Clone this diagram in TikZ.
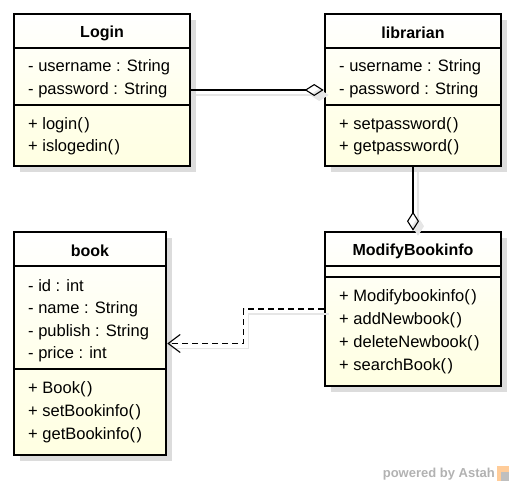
\documentclass[tikz,border=0pt]{standalone}
\usepackage{fontspec}
\setmainfont{Liberation Sans}
\usetikzlibrary{arrows.meta}
\definecolor{boxfill}{HTML}{FFFFE2}
\definecolor{shadowc}{HTML}{DCDCDC}
\definecolor{lineshadow}{HTML}{E6E6E6}
\newcommand{\pp}{(\kern1.5pt)}
\tikzset{
  classbox/.style={draw=black, line width=2.6pt, top color=white, bottom color=boxfill, middle color=boxfill!60, inner sep=0pt},
  sep/.style={line width=1.2pt},
  txt/.style={anchor=west, inner sep=0pt, font=\fontsize{16.5}{19}\selectfont},
  ttl/.style={inner sep=0pt, font=\fontsize{16}{18}\selectfont\bfseries},
  conn/.style={line width=1.1pt},
  shline/.style={line width=1.2pt, draw=lineshadow},
  dia/.style={-{Diamond[open, length=19pt, width=12pt, line width=1.1pt]}},
}
\begin{document}
\begin{tikzpicture}[x=1pt,y=-1pt]
\useasboundingbox (0,0) rectangle (513,487);
% shadows
\fill[shadowc] (20,20) rectangle (196,172);
\fill[shadowc] (331,20) rectangle (507,172);
\fill[shadowc] (20,238) rectangle (172,461);
\fill[shadowc] (331,238) rectangle (507,392);
% boxes
\node[classbox, minimum width=176pt, minimum height=152pt] (login) at (102,90) {};
\node[classbox, minimum width=176pt, minimum height=152pt] (lib) at (413,90) {};
\node[classbox, minimum width=152pt, minimum height=223pt] (book) at (90,343.5) {};
\node[classbox, minimum width=176pt, minimum height=154pt] (mod) at (413,309) {};
% separators
\draw[sep] (14,48) -- (190,48);
\draw[sep] (14,105) -- (190,105);
\draw[sep] (325,48) -- (501,48);
\draw[sep] (325,105) -- (501,105);
\draw[sep] (14,266) -- (166,266);
\draw[sep] (14,369) -- (166,369);
\draw[sep] (325,266) -- (501,266);
\draw[sep] (325,277) -- (501,277);
% Login text
\node[ttl] (tlogin) at (102,33) {Login};
\node[txt] (l1) at (28,67) {- username : String};
\node[txt] (l2) at (28,90) {- password : String};
\node[txt] (l3) at (28,125) {+ login\pp};
\node[txt] (l4) at (28,147) {+ islogedin\pp};
% librarian text
\node[ttl] (tlib) at (413,33) {librarian};
\node[txt] (b1) at (339,67) {- username : String};
\node[txt] (b2) at (339,90) {- password : String};
\node[txt] (b3) at (339,125) {+ setpassword\pp};
\node[txt] (b4) at (339,147) {+ getpassword\pp};
% book text
\node[ttl] (tbook) at (90,251) {book};
\node[txt] (k1) at (28,286) {- id : int};
\node[txt] (k2) at (28,309) {- name : String};
\node[txt] (k3) at (28,332) {- publish : String};
\node[txt] (k4) at (28,354) {- price : int};
\node[txt] (k5) at (28,389) {+ Book\pp};
\node[txt] (k6) at (28,412) {+ setBookinfo\pp};
\node[txt] (k7) at (28,435) {+ getBookinfo\pp};
% ModifyBookinfo text
\node[ttl] (tmod) at (413,251) {ModifyBookinfo};
\node[txt] (m1) at (339,297) {+ Modifybookinfo\pp};
\node[txt] (m2) at (339,320) {+ addNewbook\pp};
\node[txt] (m3) at (339,343) {+ deleteNewbook\pp};
\node[txt] (m4) at (339,366) {+ searchBook\pp};
% connector shadows
\begin{scope}[transform canvas={xshift=5pt,yshift=-5pt}]
\draw[shline, -{Diamond[length=19pt, width=12pt, fill=lineshadow]}] (login.east) -- (lib.west);
\draw[shline, -{Diamond[length=19pt, width=12pt, fill=lineshadow]}] (lib.south) -- (mod.north);
\draw[shline] (mod.west) -- ++(-80,0) |- (book.east);
\end{scope}
% connectors
\draw[conn, dia] (login.east) -- (lib.west);
\draw[conn, dia] (lib.south) -- (mod.north);
\draw[conn, dash pattern=on 6pt off 4pt, -{Straight Barb[length=12pt, width=18pt, line width=1.1pt]}] (mod.west) -- ++(-80,0) |- (book.east);
% watermark
\node[anchor=east, inner sep=0pt, text=gray!60, font=\fontsize{13}{15}\selectfont\bfseries] (wm) at (495,474) {powered by Astah};
\fill[orange!40] (497,466) rectangle (509,481);
\fill[gray!50] (501,472) rectangle (509,481);
\end{tikzpicture}
\end{document}
